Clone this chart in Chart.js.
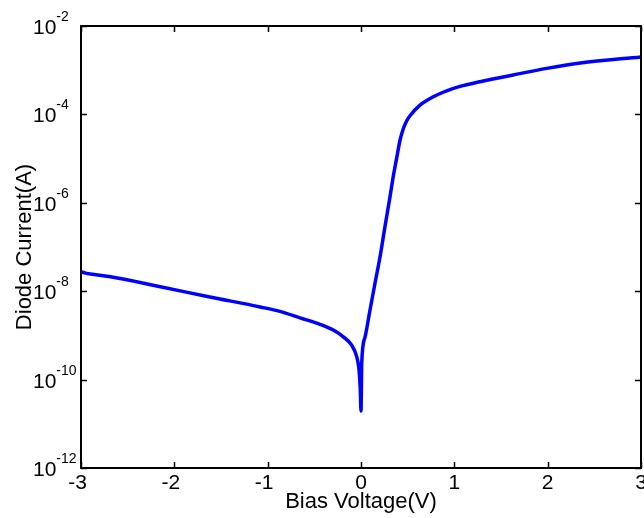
<!DOCTYPE html>
<html>
<head>
<meta charset="utf-8">
<script src="https://cdn.jsdelivr.net/npm/chart.js@4"></script>
<style>
  html, body { margin: 0; padding: 0; background: #fff; }
  canvas { display: block; }
</style>
</head>
<body>
<canvas id="chart" width="644" height="518"></canvas>
<script>
// Bias voltage (V) and diode current (A)
const voltage = [-3.0, -2.95, -2.9, -2.7, -2.15, -1.62, -1.08, -0.868, -0.654, -0.439, -0.297, -0.19, -0.1, -0.046, -0.021, -0.008, 0.0,
                 0.008, 0.043, 0.096, 0.15, 0.204, 0.257, 0.311, 0.346, 0.383, 0.418, 0.454, 0.49, 0.525, 0.632, 0.775, 0.918,
                 1.06, 1.275, 1.63, 1.99, 2.35, 3.0];
const current = [2.75e-8, 2.57e-8, 2.45e-8, 2.14e-8, 1.26e-8, 7.4e-9, 4.4e-9, 3.5e-9, 2.5e-9, 1.78e-9, 1.32e-9, 9.3e-10, 6.0e-10, 3.3e-10, 1.66e-10, 6.3e-11, 1.95e-11,
                 2.4e-10, 9.1e-10, 3.7e-9, 1.51e-8, 6.0e-8, 2.9e-7, 1.38e-6, 4.0e-6, 1.05e-5, 2.6e-5, 4.8e-5, 7.2e-5, 9.3e-5, 1.62e-4, 2.5e-4, 3.4e-4,
                 4.3e-4, 5.5e-4, 7.8e-4, 1.1e-3, 1.45e-3, 2.0e-3];

const xTicks = [-3, -2, -1, 0, 1, 2, 3];
const xTickLabels = ['-3', '-2', '-1', '0', '1', '2', '3'];
const yTicks = [1e-12, 1e-10, 1e-8, 1e-6, 1e-4, 1e-2];
const yTickExponents = ['-12', '-10', '-8', '-6', '-4', '-2'];

const xTitle = 'Bias Voltage(V)';
const yTitle = 'Diode Current(A)';

const FONT = '"Liberation Sans", Arial, sans-serif';

// box, inward tick marks and matlab-like labels
const axesPlugin = {
    id: 'matlabAxes',
    afterDraw(chart) {
        const ctx = chart.ctx;
        const a = chart.chartArea;
        const xs = chart.scales.x;
        const ys = chart.scales.y;
        const tickLen = 6;

        ctx.save();
        ctx.strokeStyle = '#000';
        ctx.lineWidth = 2;
        ctx.strokeRect(a.left, a.top, a.right - a.left, a.bottom - a.top);

        ctx.lineWidth = 1.5;
        ctx.beginPath();
        xTicks.forEach(v => {
            const px = Math.round(xs.getPixelForValue(v)) + 0.5;
            ctx.moveTo(px, a.bottom); ctx.lineTo(px, a.bottom - tickLen);
            ctx.moveTo(px, a.top); ctx.lineTo(px, a.top + tickLen);
        });
        yTicks.forEach(v => {
            const py = Math.round(ys.getPixelForValue(v)) + 0.5;
            ctx.moveTo(a.left, py); ctx.lineTo(a.left + tickLen, py);
            ctx.moveTo(a.right, py); ctx.lineTo(a.right - tickLen, py);
        });
        ctx.stroke();

        ctx.fillStyle = '#000';

        // x tick labels
        ctx.font = '21px ' + FONT;
        ctx.textAlign = 'center';
        ctx.textBaseline = 'alphabetic';
        xTicks.forEach((v, i) => {
            const px = xs.getPixelForValue(v);
            const lbl = xTickLabels[i];
            // digits centred on the tick, the minus hangs to the left
            const shift = lbl.startsWith('-') ? -ctx.measureText('-').width / 2 : 0;
            ctx.fillText(lbl, px + shift, a.bottom + 21);
        });

        // y tick labels: 10 with a raised exponent
        yTicks.forEach((v, i) => {
            const py = ys.getPixelForValue(v);
            ctx.textAlign = 'left';
            ctx.font = '21px ' + FONT;
            ctx.fillText('10', 33, py + 8);
            const w = ctx.measureText('10').width;
            ctx.font = '14px ' + FONT;
            ctx.fillText(yTickExponents[i], 33 + w, py - 5);
        });

        // axis titles
        ctx.font = '22px ' + FONT;
        ctx.textAlign = 'center';
        ctx.fillText(xTitle, (a.left + a.right) / 2, 508);

        ctx.save();
        ctx.translate(31, (a.top + a.bottom) / 2);
        ctx.rotate(-Math.PI / 2);
        ctx.fillText(yTitle, 0, 0);
        ctx.restore();

        ctx.restore();
    }
};

const points = voltage.map((v, i) => ({ x: v, y: current[i] }));

new Chart(document.getElementById('chart').getContext('2d'), {
    type: 'scatter',
    data: {
        datasets: [{
            label: 'I-V',
            data: points,
            showLine: true,
            borderColor: '#0000ff',
            backgroundColor: '#0000ff',
            borderWidth: 3.5,
            pointRadius: 0,
            cubicInterpolationMode: 'monotone',
            borderJoinStyle: 'round',
            borderCapStyle: 'round'
        }]
    },
    options: {
        responsive: false,
        animation: false,
        devicePixelRatio: 1,
        layout: { padding: { top: 26, right: 3, left: 0, bottom: 0 } },
        plugins: {
            legend: { display: false },
            tooltip: { enabled: false }
        },
        scales: {
            x: {
                type: 'linear',
                min: -3,
                max: 3,
                grid: { display: false },
                border: { display: false },
                ticks: { display: false },
                afterFit(scale) { scale.height = 50; }
            },
            y: {
                type: 'logarithmic',
                min: 1e-12,
                max: 1e-2,
                grid: { display: false },
                border: { display: false },
                ticks: { display: false },
                afterBuildTicks(scale) { scale.ticks = yTicks.map(v => ({ value: v })); },
                afterFit(scale) { scale.width = 81; }
            }
        }
    },
    plugins: [axesPlugin]
});
</script>
</body>
</html>
